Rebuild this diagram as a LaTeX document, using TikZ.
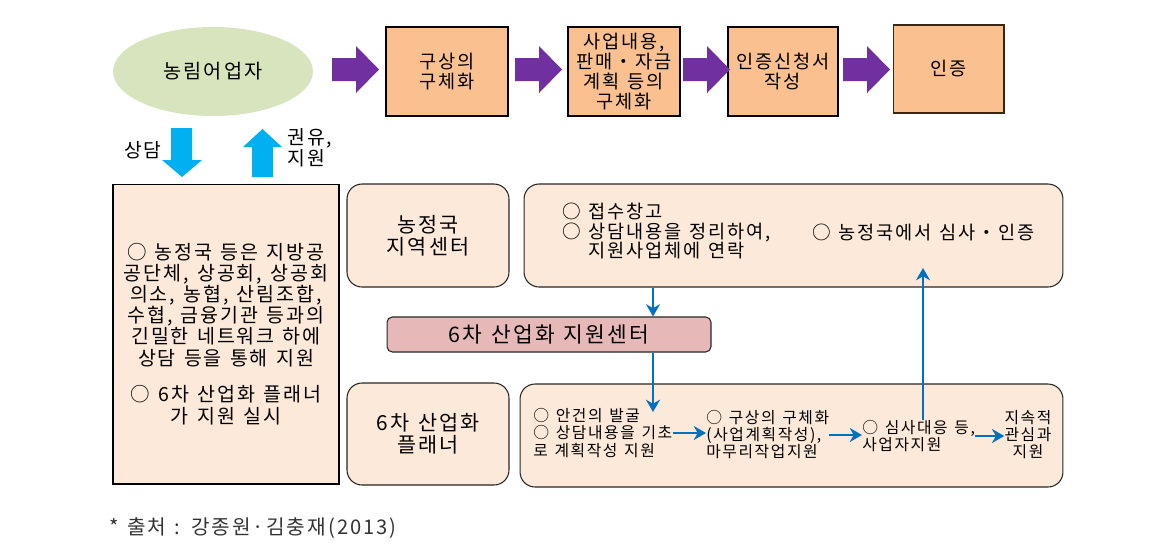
\documentclass[tikz,border=0pt]{standalone}
\usepackage{fontspec}
\setmainfont{Noto Sans CJK KR}[LetterSpace=10,WordSpace=1.3]
\usetikzlibrary{arrows.meta,shapes.geometric}

\definecolor{leafgreen}{HTML}{D7E4BD}
\definecolor{boxorange}{HTML}{FAC090}
\definecolor{peach}{HTML}{FDE9D9}
\definecolor{rosebox}{HTML}{E6B9B8}
\definecolor{bigpurple}{HTML}{7030A0}
\definecolor{skyblue}{HTML}{00B0F0}
\definecolor{linkblue}{HTML}{0070C0}

\tikzset{
	stepbox/.style={draw=black,line width=0.6pt,fill=boxorange,align=center,
		minimum height=1.78cm,inner sep=1pt,font=\fontsize{10.6}{11.4}\selectfont},
	softbox/.style={draw=black!85,line width=0.6pt,fill=peach,rounded corners=0.3cm,
		align=center,font=\fontsize{11.8}{12.6}\selectfont},
	flow/.style={-{Stealth[length=7pt,width=8pt]},draw=linkblue,line width=1.3pt},
	smalltxt/.style={align=left,inner sep=0pt,font=\fontsize{9}{9.7}\selectfont},
}

\begin{document}
\begin{tikzpicture}[x=0.02cm,y=-0.02cm]
\useasboundingbox (0,0) rectangle (1151,559);

% top row
\node[ellipse,fill=leafgreen,minimum width=4cm,minimum height=1.78cm,
	font=\fontsize{11.2}{12}\selectfont] (farmer) at (213,71.5) {농림어업자};
\node[stepbox,minimum width=2.44cm] (plan) at (447,71.5) {구상의\\구체화};
\node[stepbox,minimum width=2.24cm] (detail) at (624,71.5) {사업내용,\\판매・자금\\계획 등의\\구체화};
\node[stepbox,minimum width=2.2cm] (apply) at (783,71.5) {인증신청서\\작성};
\node[stepbox,draw=black!70!brown,minimum width=2.22cm,minimum height=1.76cm] (cert) at (948.5,69) {인증};

\foreach \x in {332,515,683,843}{
	\fill[bigpurple] (\x,58)--(\x+24,58)--(\x+24,46)--(\x+47,69.5)
		--(\x+24,93)--(\x+24,81)--(\x,81)--cycle;
}

% consult / support arrows
\fill[skyblue] (171,128)--(192,128)--(192,160)--(202,160)--(182,177)
	--(162,160)--(171,160)--cycle;
\fill[skyblue] (252,177)--(273,177)--(273,147)--(282,147)--(262.5,129)
	--(243,147)--(252,147)--cycle;
\node[font=\fontsize{11}{12}\selectfont] (consult) at (143,150) {상담};
\node[anchor=west,align=left,inner sep=0pt,font=\fontsize{11}{12}\selectfont]
	(support) at (287,148) {권유,\\지원};

% support network
\node[draw=black,line width=0.6pt,fill=peach,minimum width=4.52cm,minimum height=6cm,
	align=center,font=\fontsize{11.1}{12}\selectfont] (network) at (226,334)
	{○ 농정국 등은 지방공\\공단체, 상공회, 상공회\\의소, 농협, 산림조합,\\수협, 금융기관 등과의\\
	 긴밀한 네트워크 하에\\상담 등을 통해 지원\\[9pt]○ 6차 산업화 플래너\\가 지원 실시};

\node[softbox,minimum width=3.24cm,minimum height=2.06cm] (office) at (428,235.5) {농정국\\지역센터};
\node[softbox,minimum width=10.78cm,minimum height=2.06cm] (desk) at (793.5,235.5) {};
\node[anchor=west,align=left,inner sep=0pt,font=\fontsize{10.6}{11}\selectfont] (t5) at (562,231)
	{○ 접수창고\\○ 상담내용을 정리하여,\\\phantom{○ }지원사업체에 연락};
\node[anchor=west,inner sep=0pt,font=\fontsize{10.6}{11}\selectfont] (t6) at (812,232)
	{○ 농정국에서 심사・인증};

\node[draw=black!85,line width=0.6pt,fill=rosebox,rounded corners=3pt,minimum width=6.48cm,
	minimum height=0.7cm,font=\fontsize{12.2}{12}\selectfont] (hub) at (549,334.5) {6차 산업화 지원센터};

\node[softbox,minimum width=3.24cm,minimum height=2.04cm] (planner) at (428,434) {6차 산업화\\플래너};
\node[softbox,minimum width=10.86cm,minimum height=2.06cm] (field) at (791.5,435.5) {};

\node[smalltxt,anchor=west] (t1) at (533,433) {○ 안건의 발굴\\○ 상담내용을 기초\\로 계획작성 지원};
\node[smalltxt,anchor=west] (t2) at (706,435) {○ 구상의 구체화\\(사업계획작성),\\마무리작업지원};
\node[smalltxt,anchor=west] (t3) at (862,436) {○ 심사대응 등,\\사업자지원};
\node[smalltxt,align=center] (t4) at (1028,435) {지속적\\관심과\\지원};

\draw[flow] (t1.east) -- (t1.east -| t2.west);
\draw[flow] (t2.east) -- (t2.east -| t3.west);
\draw[flow] (t3.east) -- (t3.east -| t4.west);

\coordinate (drop) at (653,412);
\coordinate (rise) at (923,268);
\draw[flow] (desk.south -| drop) -- (hub.north -| drop);
\draw[flow] (hub.south -| drop) -- (drop);
\draw[flow] (t3.north -| rise) -- (rise);

\node[anchor=west,text=black!80,font=\fontsize{11.5}{12}\selectfont] (source) at (103,528)
	{* 출처 : 강종원·김충재(2013)};

\end{tikzpicture}
\end{document}
